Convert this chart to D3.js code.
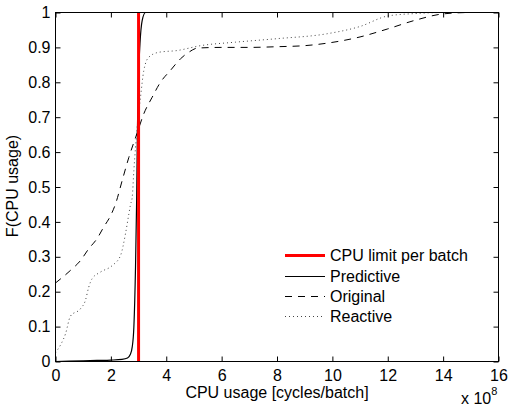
<!DOCTYPE html>
<html>
<head>
<meta charset="utf-8">
<script src="https://cdn.jsdelivr.net/npm/d3@7"></script>
<style>
  body { margin: 0; background: #fff; }
  svg { display: block; }
</style>
</head>
<body>
<div id="chart"></div>
<script>
// x values in units of 1e8 cycles/batch, y = CDF
var predX = [0, 0.5, 1, 1.5, 2, 2.4, 2.6, 2.7, 2.77, 2.83, 2.89, 2.93, 2.96, 3.0, 3.05, 3.13, 3.25, 4, 8, 16];
var predY = [0, 0.001, 0.002, 0.003, 0.004, 0.006, 0.01, 0.02, 0.041, 0.098, 0.27, 0.46, 0.67, 0.82, 0.91, 0.977, 1.0, 1, 1, 1];

var origX = [0, 0.54, 0.9, 1.2, 1.5, 1.74, 1.99, 2.17, 2.41, 2.65, 2.95, 3.19, 3.49, 3.79, 4.15, 4.51, 4.85, 5.12, 6, 7, 8, 9, 9.8, 11, 12, 13, 14, 15, 16];
var origY = [0.225, 0.261, 0.289, 0.323, 0.352, 0.385, 0.418, 0.452, 0.519, 0.585, 0.655, 0.71, 0.757, 0.80, 0.834, 0.867, 0.888, 0.898, 0.9, 0.9, 0.902, 0.905, 0.912, 0.93, 0.953, 0.978, 0.996, 1.0, 1.0];

var reacX = [0, 0.06, 0.2, 0.36, 0.54, 0.9, 1.08, 1.2, 1.32, 1.62, 2.05, 2.35, 2.53, 2.65, 2.71, 2.77, 2.83, 2.95, 3.07, 3.19, 3.37, 3.73, 4.39, 5.24, 6.5, 8, 9.8, 11, 12, 13, 14, 16];
var reacY = [0.025, 0.032, 0.05, 0.079, 0.13, 0.151, 0.175, 0.213, 0.237, 0.256, 0.275, 0.304, 0.367, 0.423, 0.45, 0.47, 0.547, 0.671, 0.757, 0.834, 0.872, 0.886, 0.891, 0.905, 0.915, 0.925, 0.939, 0.96, 0.99, 0.997, 1.0, 1.0];

var limitX = [3, 3];
var limitY = [0, 1];

var xTicks = [0, 2, 4, 6, 8, 10, 12, 14, 16];
var yTicks = [0, 0.1, 0.2, 0.3, 0.4, 0.5, 0.6, 0.7, 0.8, 0.9, 1];

var legendNames = ["CPU limit per batch", "Predictive", "Original", "Reactive"];

var width = 509, height = 406;
var plot_left = 55.5, plot_right = 498.5, plot_top = 12.5, plot_bottom = 361.5;
var font = "'Liberation Sans', Arial, Helvetica, sans-serif";
var fontsize = 16;

var svg = d3.select("#chart").append("svg")
  .attr("width", width)
  .attr("height", height);

var x = d3.scaleLinear().domain([0, 16]).range([plot_left, plot_right]);
var y = d3.scaleLinear().domain([0, 1]).range([plot_bottom, plot_top]);

var line = d3.line()
  .x(function(d) { return x(d[0]); })
  .y(function(d) { return y(d[1]); })
  .curve(d3.curveMonotoneX);

function pairs(xs, ys) {
  return xs.map(function(v, i) { return [v, ys[i]]; });
}

// series
svg.append("path")
  .attr("d", line(pairs(reacX, reacY)))
  .style("fill", "none")
  .style("stroke", "#444")
  .style("stroke-width", 1)
  .style("stroke-dasharray", "1,3");

svg.append("path")
  .attr("d", line(pairs(origX, origY)))
  .style("fill", "none")
  .style("stroke", "#000")
  .style("stroke-width", 1)
  .style("stroke-dasharray", "7,6");

svg.append("path")
  .attr("d", line(pairs(predX, predY)))
  .style("fill", "none")
  .style("stroke", "#000")
  .style("stroke-width", 1.2);

svg.append("path")
  .attr("d", d3.line().x(function(d) { return x(d[0]); }).y(function(d) { return y(d[1]); })(pairs(limitX, limitY)))
  .style("fill", "none")
  .style("stroke", "#ff0000")
  .style("stroke-width", 3);

// axes, ticks inside on all sides
var tickLen = 5;
svg.append("g")
  .attr("transform", "translate(0," + plot_bottom + ")")
  .call(d3.axisBottom(x).tickValues(xTicks).tickSizeInner(-tickLen).tickSizeOuter(0).tickPadding(8));
svg.append("g")
  .attr("transform", "translate(0," + plot_top + ")")
  .call(d3.axisTop(x).tickValues(xTicks).tickSizeInner(-tickLen).tickSizeOuter(0).tickFormat(""));
svg.append("g")
  .attr("transform", "translate(" + plot_left + ",0)")
  .call(d3.axisLeft(y).tickValues(yTicks).tickSizeInner(-tickLen).tickSizeOuter(0).tickPadding(5)
    .tickFormat(function(d) { return d === 0 || d === 1 ? String(d) : d3.format(".1f")(d); }));
svg.append("g")
  .attr("transform", "translate(" + plot_right + ",0)")
  .call(d3.axisRight(y).tickValues(yTicks).tickSizeInner(-tickLen).tickSizeOuter(0).tickFormat(""));

svg.selectAll(".domain").remove();
svg.selectAll(".tick line").style("stroke", "#000");
svg.selectAll(".tick text")
  .style("font-family", font)
  .style("font-size", fontsize + "px")
  .style("fill", "#000");

svg.append("rect")
  .attr("x", plot_left).attr("y", plot_top)
  .attr("width", plot_right - plot_left).attr("height", plot_bottom - plot_top)
  .style("fill", "none")
  .style("stroke", "#000")
  .style("stroke-width", 1);

// labels
svg.append("text")
  .attr("x", 277)
  .attr("y", 398)
  .style("text-anchor", "middle")
  .style("font-family", font)
  .style("font-size", fontsize + "px")
  .text("CPU usage [cycles/batch]");

svg.append("text")
  .attr("transform", "translate(18," + 186 + ") rotate(-90)")
  .style("text-anchor", "middle")
  .style("font-family", font)
  .style("font-size", fontsize + "px")
  .text("F(CPU usage)");

var expo = svg.append("text")
  .attr("x", 461)
  .attr("y", 404)
  .style("font-family", font)
  .style("font-size", fontsize + "px");
expo.append("tspan").text("x 10");
expo.append("tspan").attr("dy", -9).style("font-size", "11px").text("8");

// legend
var legendY = [255, 276, 296, 316];
var legendStyle = [
  { stroke: "#ff0000", width: 3, dash: null },
  { stroke: "#000", width: 1, dash: null },
  { stroke: "#000", width: 1, dash: "7,6" },
  { stroke: "#444", width: 1, dash: "1,3" }
];
legendNames.forEach(function(name, i) {
  var s = legendStyle[i];
  svg.append("line")
    .attr("x1", 285).attr("x2", 325)
    .attr("y1", legendY[i] + 0.5).attr("y2", legendY[i] + 0.5)
    .style("stroke", s.stroke)
    .style("stroke-width", s.width)
    .style("stroke-dasharray", s.dash);
  svg.append("text")
    .attr("x", 330)
    .attr("y", legendY[i] + 6)
    .style("font-family", font)
    .style("font-size", fontsize + "px")
    .text(name);
});
</script>
</body>
</html>
